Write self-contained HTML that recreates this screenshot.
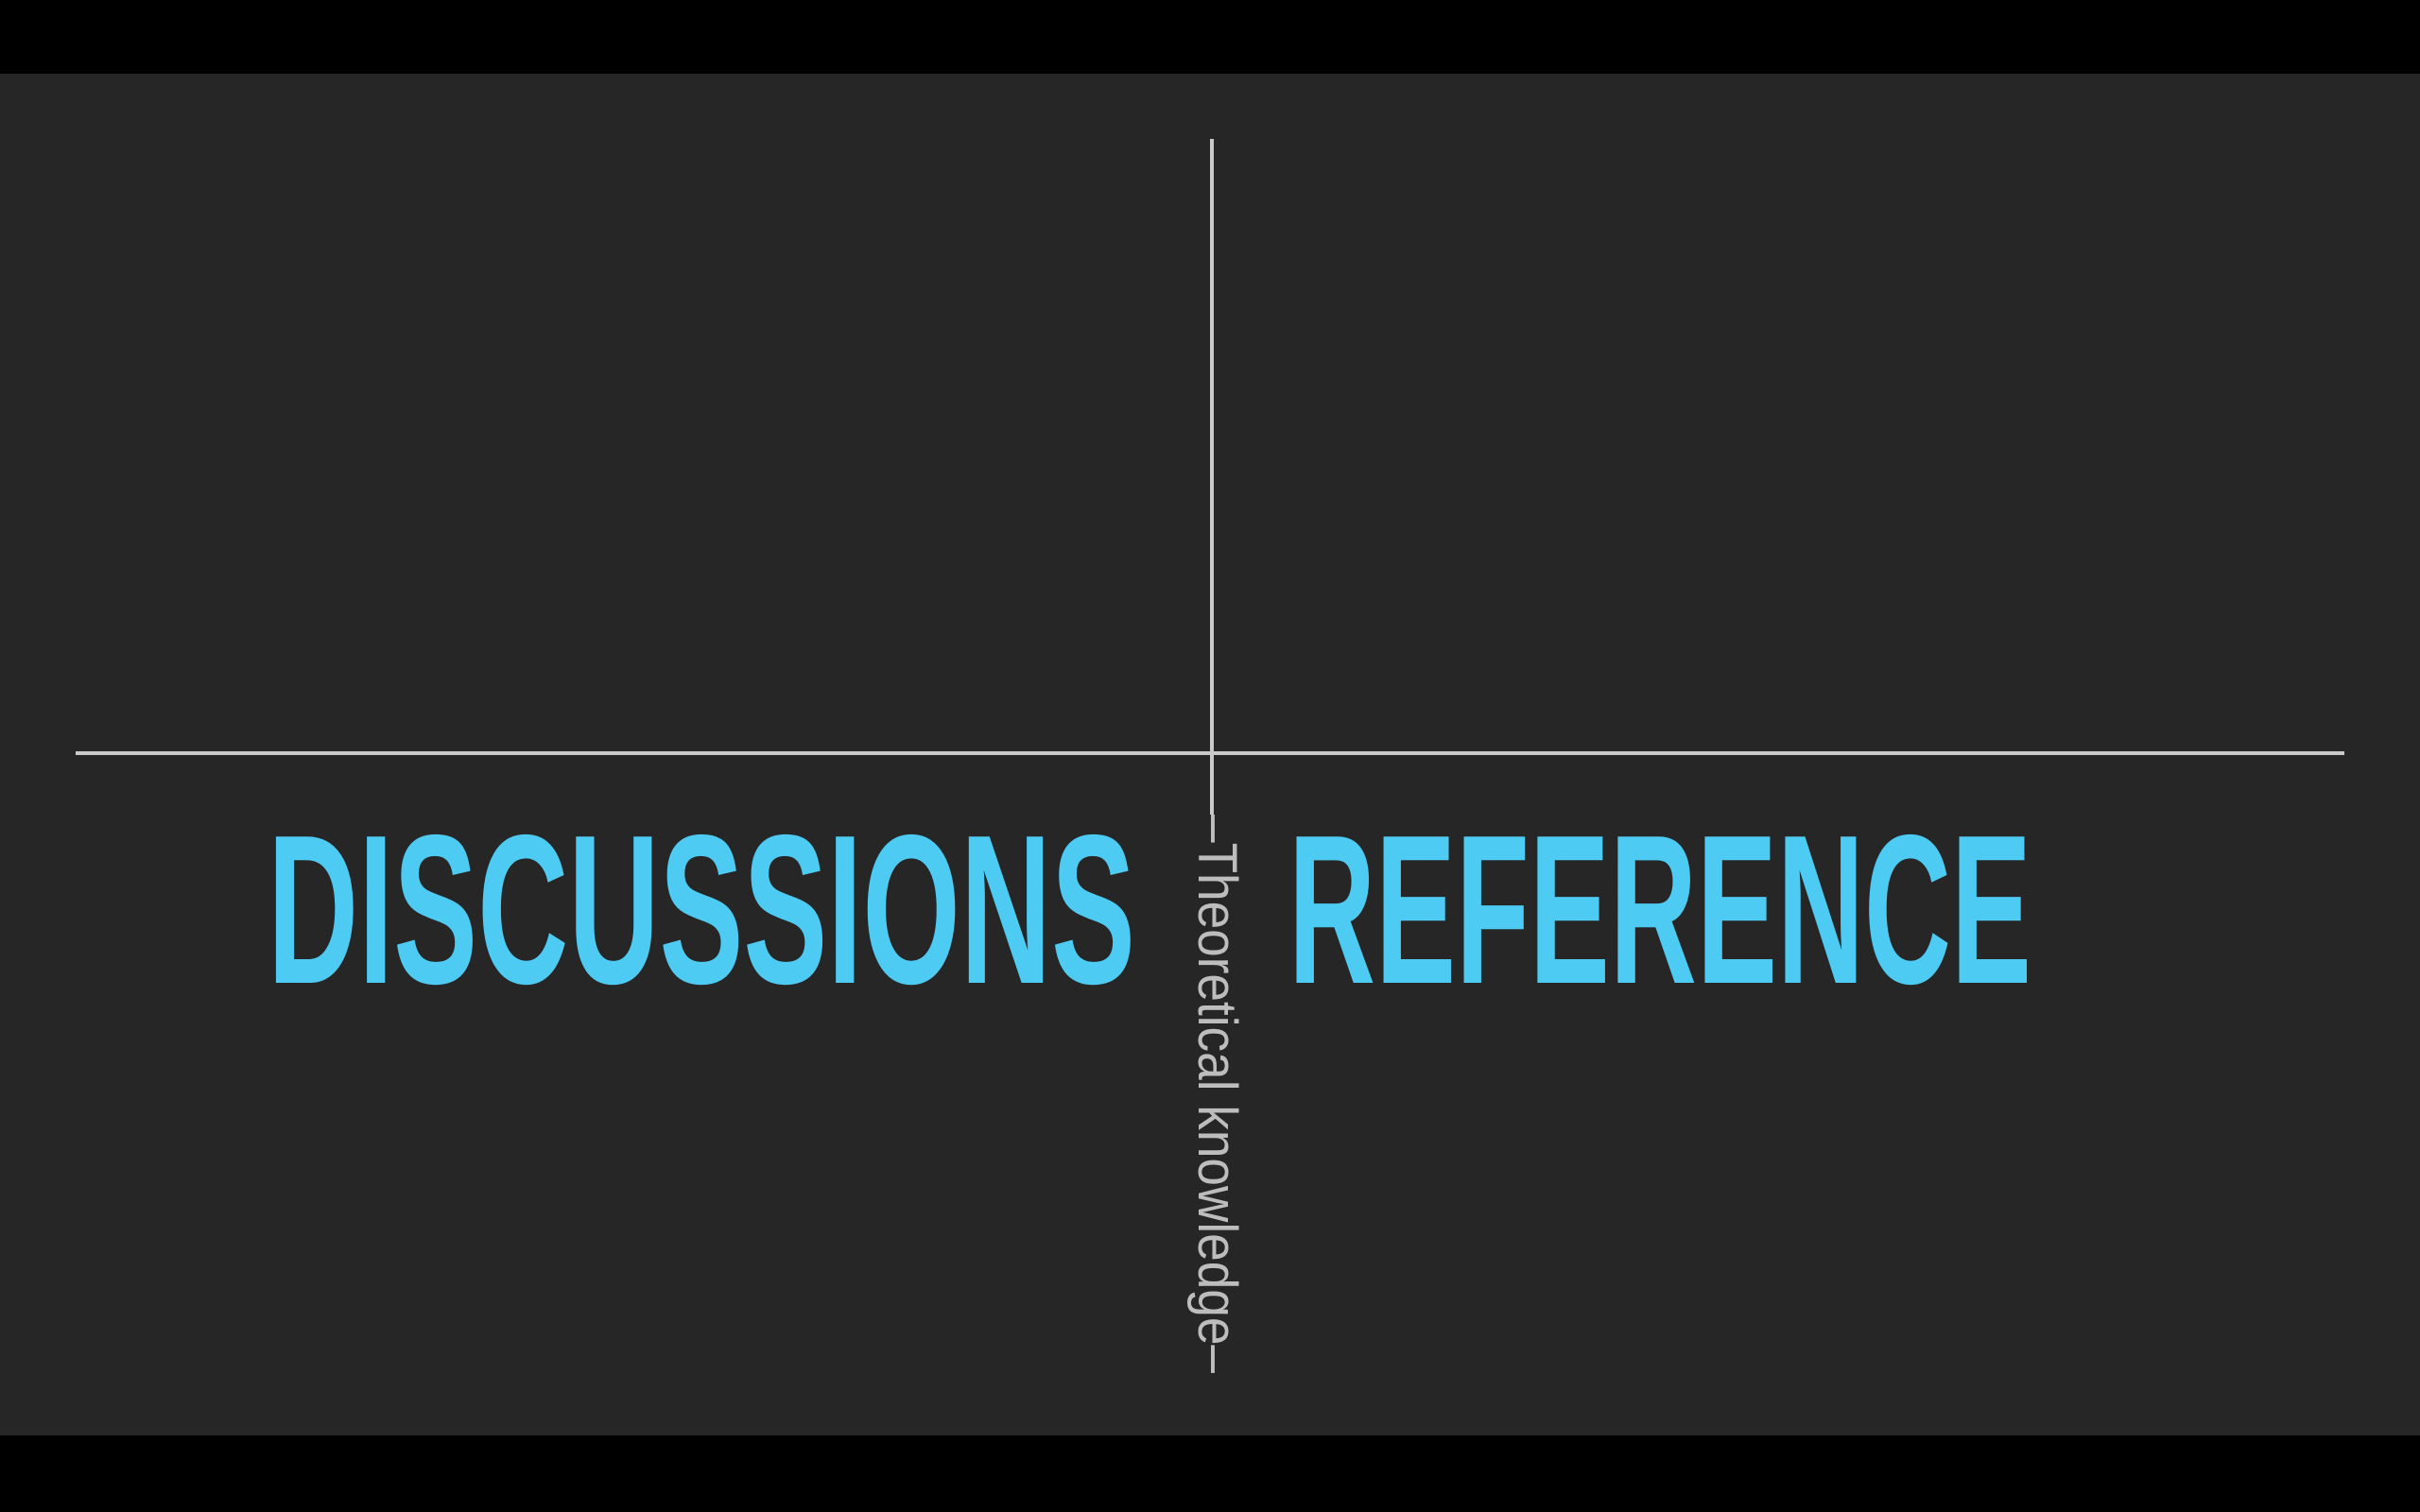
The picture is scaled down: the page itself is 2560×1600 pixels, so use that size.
<!DOCTYPE html>
<html><head><meta charset="utf-8"><style>
html,body{margin:0;padding:0;background:#000;}
svg{display:block;}
</style></head><body>
<svg width="2560" height="1600" xmlns="http://www.w3.org/2000/svg">
<rect x="0" y="0" width="2560" height="1600" fill="#000"/>
<rect x="0" y="78" width="2560" height="1441" fill="#262626"/>
<line x1="80" y1="797" x2="2480" y2="797" stroke="#c9c9c9" stroke-width="4"/>
<line x1="1282" y1="147" x2="1282" y2="862" stroke="#c9c9c9" stroke-width="4"/>
<text x="283" y="1040" font-family="Liberation Sans, sans-serif" font-weight="bold" font-size="225" fill="#4ecbf3" textLength="918" lengthAdjust="spacingAndGlyphs">DISCUSSIONS</text>
<text x="1363" y="1040" font-family="Liberation Sans, sans-serif" font-weight="bold" font-size="225" fill="#4ecbf3" textLength="786" lengthAdjust="spacingAndGlyphs">REFERENCE</text>
<text transform="translate(1268,862) rotate(90)" font-family="Liberation Sans, sans-serif" font-size="58" fill="#bdbdbd" textLength="591" lengthAdjust="spacingAndGlyphs">–Theoretical knowledge–</text>
</svg>
</body></html>
